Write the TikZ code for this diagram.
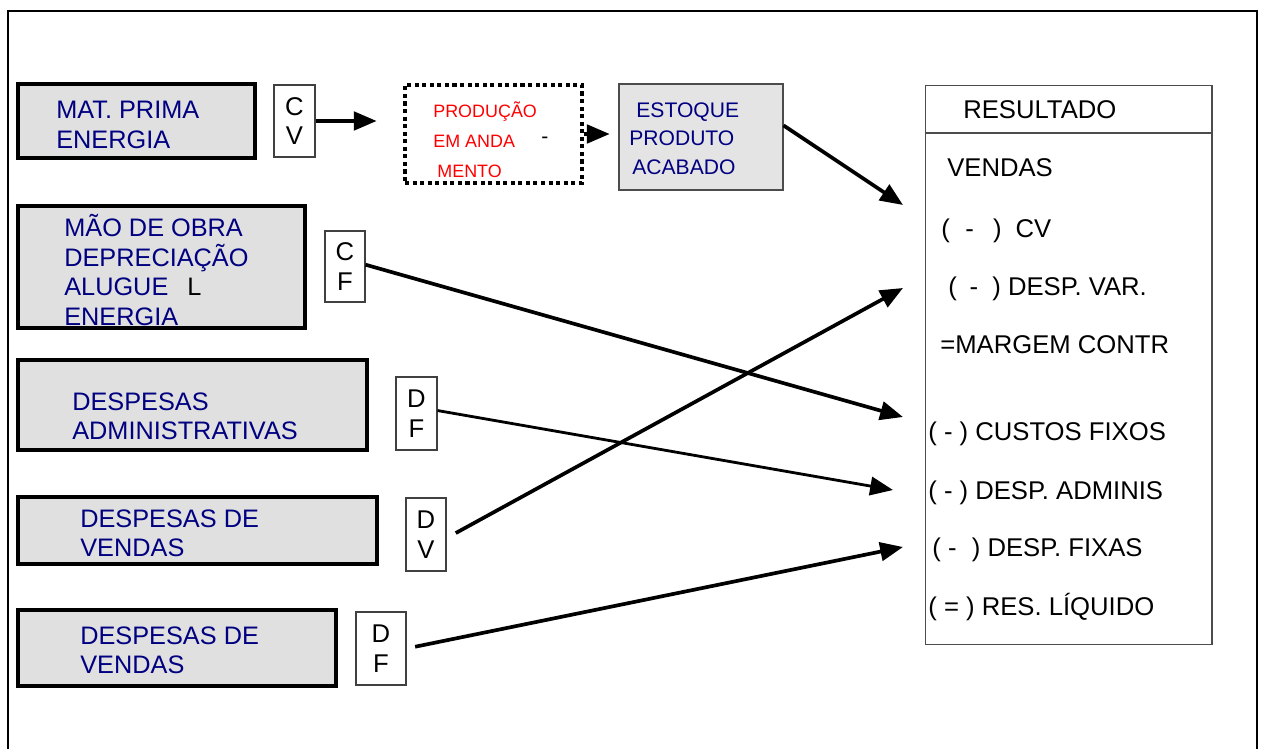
\documentclass[tikz,border=0pt]{standalone}
\usepackage{fontspec}
\setmainfont{Liberation Sans}
\usetikzlibrary{arrows.meta}
\usepackage{xcolor}
\definecolor{navytext}{RGB}{0,0,128}
\definecolor{marble}{RGB}{224,224,224}
\definecolor{granite}{RGB}{228,228,228}

\begin{document}
\begin{tikzpicture}[x=0.02cm, y=-0.02cm,
    marblebox/.style={draw=black, line width=2pt, fill=marble, inner sep=0pt},
    letterbox/.style={draw=black!75, line width=0.6pt, fill=white, align=center, inner sep=0pt,
        font=\fontsize{14.6}{16.8}\selectfont},
    navy/.style={text=navytext, align=left, inner sep=0pt, anchor=west,
        font=\fontsize{14.4}{16.8}\selectfont},
    item/.style={anchor=base west, inner sep=0pt, font=\fontsize{14.6}{16.8}\selectfont},
    arr/.style={-{Triangle[length=13pt,width=10.5pt]}, line width=2.1pt}]
    \useasboundingbox (0,0) rectangle (1261,749);

    % Outer frame (open at the bottom)
    \draw[line width=1.5pt] (8,749) -- (8,11) -- (1257,11) -- (1257,749);

    % Cost groups
    \node[marblebox, minimum width=4.74cm, minimum height=1.48cm] (matprima) at (136.5,121) {};
    \node[navy] (matprimatxt) at (56,125) {MAT. PRIMA\\ENERGIA};
    \node[marblebox, minimum width=5.74cm, minimum height=2.44cm] (maoobra) at (161.5,267) {};
    \node[navy] (maoobratxt) at (64,270) {MÃO DE OBRA\\DEPRECIAÇÃO\\ALUGUE\hspace{0.75em}{\color{black}L}\\ENERGIA};
    \node[marblebox, minimum width=6.98cm, minimum height=1.8cm] (despadm) at (192.5,405) {};
    \node[navy] (despadmtxt) at (72,416.5) {DESPESAS\\ADMINISTRATIVAS};
    \node[marblebox, minimum width=7.18cm, minimum height=1.34cm] (despvend) at (197.5,530.5) {};
    \node[navy] (despvendtxt) at (80,533.5) {DESPESAS DE\\VENDAS};
    \node[marblebox, minimum width=6.36cm, minimum height=1.52cm] (despvendb) at (177,648) {};
    \node[navy] (despvendbtxt) at (80,650.5) {DESPESAS DE\\VENDAS};

    % Letter boxes
    \node[letterbox, minimum width=0.82cm, minimum height=1.44cm] (cv) at (294.5,121) {C\\V};
    \node[letterbox, minimum width=0.8cm, minimum height=1.42cm] (cf) at (345,266.5) {C\\F};
    \node[letterbox, minimum width=0.82cm, minimum height=1.46cm] (dfa) at (416.5,413.5) {D\\F};
    \node[letterbox, minimum width=0.8cm, minimum height=1.46cm] (dv) at (426,534.5) {D\\V};
    \node[letterbox, minimum width=1.0cm, minimum height=1.46cm] (dfb) at (381,648.5) {D\\F};

    % Production in progress and finished goods
    \node[draw, line width=2.3pt, dash pattern=on 2.3pt off 2pt, minimum width=3.54cm,
        minimum height=1.96cm, inner sep=0pt] (prod) at (493.5,134) {};
    \node[text=red, align=left, anchor=west, inner sep=0pt,
        font=\fontsize{10.2}{17}\selectfont] (prodtxt) at (433,140)
        {PRODUÇÃO\\EM ANDA\\\hspace*{2.3pt}MENTO};
    \node[inner sep=0pt, font=\fontsize{12}{14}\selectfont] (hifen) at (545,140) {-};
    \node[draw=black!70, line width=0.6pt, fill=granite, minimum width=3.28cm,
        minimum height=2.12cm, inner sep=0pt] (estoque) at (701,137) {};
    \node[text=navytext, align=left, anchor=west, inner sep=0pt,
        font=\fontsize{12}{16.2}\selectfont] (estoquetxt) at (629,138.5)
        {\hspace*{4pt}ESTOQUE\\PRODUTO\\\hspace*{1.7pt}ACABADO};

    % Income statement
    \node[draw=black!70, line width=0.6pt, minimum width=5.74cm, minimum height=11.2cm,
        inner sep=0pt] (result) at (1068.5,365) {};
    \draw[black!70, line width=0.6pt] (result.west |- 0,133) -- (result.east |- 0,133);
    \node[item] (resultado) at (963,119) {RESULTADO};
    \node[item] (vendas) at (947,177) {VENDAS};
    \node[item] (custov) at (941,238) {(\hspace{0.6em}-\hspace{0.75em})\hspace{0.55em}CV};
    \node[item] (despvar) at (948,296) {(\hspace{0.5em}-\hspace{0.55em}) DESP. VAR.};
    \node[item] (margem) at (940,354) {=MARGEM CONTR};
    \node[item] (custof) at (928,441) {( - ) CUSTOS FIXOS};
    \node[item] (despadmin) at (928,500) {( - ) DESP. ADMINIS};
    \node[item] (despfix) at (932,557) {( -\hspace{0.6em}) DESP. FIXAS};
    \node[item] (resliq) at (928,615) {( = ) RES. LÍQUIDO};

    % Arrow tips
    \coordinate (tvendas) at (903,205);
    \coordinate (tvar) at (903,288);
    \coordinate (tfixos) at (903,417);
    \coordinate (tadm) at (893,490);
    \coordinate (tdespf) at (903,547);

    % Flows
    \draw[arr, shorten >=15pt] (cv.east) -- (cv.east -| prod.west);
    \draw[arr, shorten >=5pt] (prod.east) -- (prod.east -| estoque.west);
    \draw[arr] (estoque.8) -- (tvendas);
    \draw[arr] (cf.5) -- (tfixos);
    \draw[arr, line width=1.6pt] (dfa.8) -- (tadm);
    \draw[arr, shorten <=6pt] (dv.-10) -- (tvar);
    \draw[arr, shorten <=5pt] (dfb.east) -- (tdespf);
\end{tikzpicture}
\end{document}
